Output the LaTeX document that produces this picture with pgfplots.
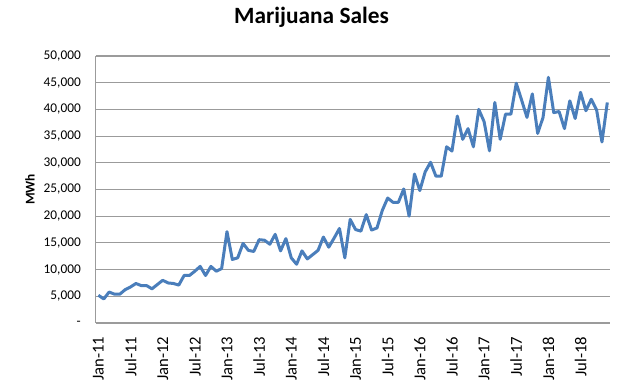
\documentclass[border=0pt]{standalone}
\usepackage{pgfplots}
\pgfplotsset{compat=1.18}
\usepackage{fontspec}
\setmainfont{Carlito}
\definecolor{excelblue}{RGB}{74,126,187}
\definecolor{gridgray}{RGB}{155,155,155}
\pgfplotstableread{
i v
0 5200
1 4500
2 5800
3 5400
4 5400
5 6250
6 6750
7 7400
8 7000
9 7000
10 6400
11 7200
12 8000
13 7500
14 7400
15 7100
16 8900
17 8900
18 9700
19 10600
20 8900
21 10600
22 9700
23 10200
24 17100
25 11900
26 12200
27 14900
28 13600
29 13400
30 15600
31 15500
32 14750
33 16600
34 13500
35 15800
36 12200
37 11000
38 13500
39 12000
40 12800
41 13600
42 16100
43 14200
44 15900
45 17700
46 12200
47 19400
48 17500
49 17200
50 20300
51 17400
52 17800
53 21100
54 23400
55 22600
56 22600
57 25100
58 20000
59 27900
60 24800
61 28300
62 30100
63 27500
64 27500
65 33000
66 32200
67 38750
68 34400
69 36400
70 33000
71 40000
72 37700
73 32250
74 41300
75 34400
76 39100
77 39100
78 44900
79 41750
80 38500
81 42900
82 35500
83 38500
84 46000
85 39400
86 39600
87 36400
88 41600
89 38300
90 43200
91 39750
92 41900
93 39900
94 33900
95 41300
}\sales
\begin{document}
\begin{tikzpicture}
\path[use as bounding box] (0,0) rectangle (468pt,288.75pt);
\begin{axis}[
  at={(71.8pt,46.5pt)}, anchor=south west,
  scale only axis,
  width=385.7pt, height=200.25pt,
  xmin=-0.5, xmax=95.5,
  ymin=0, ymax=50000,
  scaled y ticks=false,
  axis lines=left,
  axis line style={-, draw=gridgray, line width=0.8pt},
  ymajorgrids, grid style={draw=gridgray, line width=0.8pt},
  major tick length=0pt,
  xtick={0,6,...,90},
  xticklabels={Jan-11,Jul-11,Jan-12,Jul-12,Jan-13,Jul-13,Jan-14,Jul-14,Jan-15,Jul-15,Jan-16,Jul-16,Jan-17,Jul-17,Jan-18,Jul-18},
  xticklabel style={rotate=90, anchor=east, inner sep=0pt, xshift=-10pt, font=\fontsize{12.5}{14}\selectfont},
  ytick={0,5000,...,50000},
  yticklabels={{-\hspace{5pt}},{5,000},{10,000},{15,000},{20,000},{25,000},{30,000},{35,000},{40,000},{45,000},{50,000}},
  yticklabel style={anchor=east, inner sep=0pt, xshift=-11pt, font=\fontsize{10}{12}\selectfont},
  title={Marijuana Sales},
  title style={at={(axis description cs:0.4196,1.116)}, anchor=center, font=\bfseries\fontsize{17.5}{20}\selectfont},
  ylabel={MWh},
  ylabel style={at={(axis description cs:-0.128,0.5)}, anchor=center, rotate=0, font=\bfseries\fontsize{10}{12}\selectfont},
  clip=false,
]
\addplot[excelblue, line width=2.25pt, line join=round] table[x=i, y=v] {\sales};
\end{axis}
\end{tikzpicture}
\end{document}
